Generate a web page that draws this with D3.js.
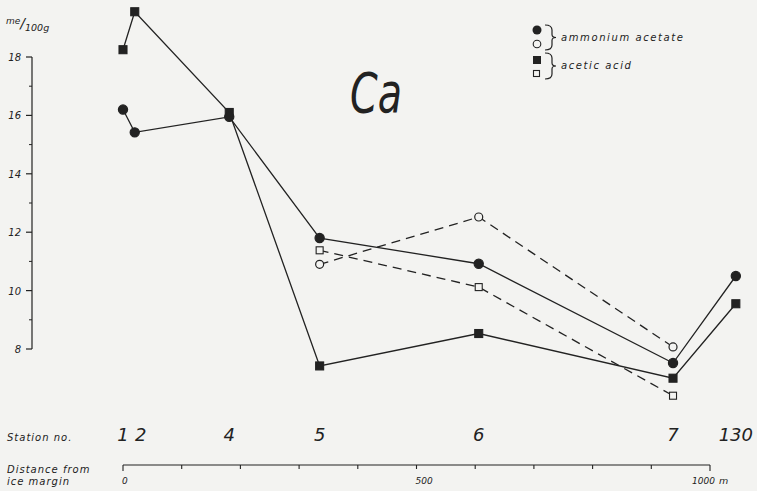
<!DOCTYPE html>
<html>
<head>
<meta charset="utf-8">
<script src="https://cdn.jsdelivr.net/npm/d3@7"></script>
<style>
  body { margin: 0; background: #f3f3f1; }
  svg { display: block; }
  text { font-family: 'DejaVu Sans', sans-serif; font-style: italic; fill: #222; }
</style>
</head>
<body>
<svg id="chart" width="757" height="491"></svg>
<script>
// stations and their distance from the ice margin (m)
const stations = ['1', '2', '4', '5', '6', '7', '130'];
const distances = [0, 20, 181, 335, 606, 937, 1044];

// ammonium acetate (filled circles) and acetic acid (filled squares)
const ammoniumFilled = [16.2, 15.42, 15.95, 11.8, 10.92, 7.52, 10.5];
const aceticFilled = [18.25, 19.55, 16.1, 7.42, 8.53, 7.0, 9.55];

// open symbols, stations 5, 6, 7 only
const openStations = ['5', '6', '7'];
const ammoniumOpen = [10.9, 12.52, 8.07];
const aceticOpen = [11.38, 10.12, 6.4];

const yTicks = [8, 10, 12, 14, 16, 18];
const yMinor = [9, 11, 13, 15, 17];
const distTicks = [0, 100, 200, 300, 400, 500, 600, 700, 800, 900, 1000];
const distLabels = [0, 500, 1000];

const ink = '#222';
const svg = d3.select('#chart');

const x = d3.scaleLinear().domain([0, 1000]).range([123, 710]);
const y = d3.scaleLinear().domain([8, 18]).range([349, 57]);
const dist = (s) => distances[stations.indexOf(s)];

// y axis
const yAxis = svg.append('g').attr('transform', 'translate(32,0)');
yAxis.append('line')
  .attr('y1', y(18)).attr('y2', y(8))
  .attr('stroke', ink).attr('stroke-width', 1.2);
yAxis.selectAll('.maj').data(yTicks).enter().append('line')
  .attr('x1', -6).attr('x2', 0)
  .attr('y1', (d) => y(d)).attr('y2', (d) => y(d))
  .attr('stroke', ink).attr('stroke-width', 1.2);
yAxis.selectAll('.min').data(yMinor).enter().append('line')
  .attr('x1', -3).attr('x2', 0)
  .attr('y1', (d) => y(d)).attr('y2', (d) => y(d))
  .attr('stroke', ink).attr('stroke-width', 1);
yAxis.selectAll('.lab').data(yTicks).enter().append('text')
  .attr('x', -11).attr('y', (d) => y(d) + 4)
  .attr('text-anchor', 'end')
  .attr('font-size', 10)
  .text((d) => d);

const unit = svg.append('text').attr('x', 6).attr('y', 28).attr('font-size', 9);
unit.append('tspan').attr('dy', -4).text('me');
unit.append('tspan').attr('dy', 4).attr('font-size', 14).text('/');
unit.append('tspan').attr('dy', 3).attr('font-size', 9.5).text('100g');

// distance axis
const dAxis = svg.append('g').attr('transform', 'translate(0,465)');
dAxis.append('line')
  .attr('x1', x(0)).attr('x2', x(1000))
  .attr('stroke', ink).attr('stroke-width', 1.2);
dAxis.selectAll('.t').data(distTicks).enter().append('line')
  .attr('x1', (d) => x(d)).attr('x2', (d) => x(d))
  .attr('y1', 0).attr('y2', (d) => (d === 0 || d === 1000 ? 6 : 4))
  .attr('stroke', ink).attr('stroke-width', 1.1);
dAxis.selectAll('.l').data(distLabels).enter().append('text')
  .attr('x', (d) => (d === 1000 ? x(d) - 18 : x(d) - 1))
  .attr('y', 19)
  .attr('font-size', 9)
  .text((d) => d);
dAxis.append('text').attr('x', x(1000) + 9).attr('y', 19)
  .attr('font-size', 9.5).text('m');

svg.append('text').attr('x', 7).attr('y', 473).attr('font-size', 10)
  .attr('letter-spacing', 1).text('Distance from');
svg.append('text').attr('x', 7).attr('y', 485).attr('font-size', 10)
  .attr('letter-spacing', 1).text('ice margin');
svg.append('text').attr('x', 7).attr('y', 441).attr('font-size', 10)
  .attr('letter-spacing', 1).text('Station no.');

// station labels
svg.selectAll('.st').data(stations).enter().append('text')
  .attr('x', (d) => x(dist(d)) + (d === '2' ? 6 : 0))
  .attr('y', 441)
  .attr('text-anchor', 'middle')
  .attr('font-size', 18)
  .text((d) => d);

// title
svg.append('text').attr('x', 350).attr('y', 112)
  .attr('font-size', 56)
  .attr('font-family', 'Liberation Sans, sans-serif')
  .attr('textLength', 52).attr('lengthAdjust', 'spacingAndGlyphs')
  .text('Ca');

// lines
const line = d3.line().x((d) => x(d[0])).y((d) => y(d[1]));
function series(names, vals, dashed) {
  svg.append('path')
    .datum(names.map((s, i) => [dist(s), vals[i]]))
    .attr('d', line)
    .attr('fill', 'none')
    .attr('stroke', ink)
    .attr('stroke-width', 1.3)
    .attr('stroke-dasharray', dashed ? '9,6' : null);
}
series(stations, aceticFilled, false);
series(stations, ammoniumFilled, false);
series(openStations, ammoniumOpen, true);
series(openStations, aceticOpen, true);

// markers
function circles(names, vals, filled) {
  svg.append('g').selectAll('circle').data(vals).enter().append('circle')
    .attr('cx', (d, i) => x(dist(names[i])))
    .attr('cy', (d) => y(d))
    .attr('r', filled ? 4.6 : 4)
    .attr('fill', filled ? ink : '#f3f3f1')
    .attr('stroke', ink).attr('stroke-width', 1.2);
}
function squares(names, vals, filled) {
  const s = filled ? 8 : 7;
  svg.append('g').selectAll('rect').data(vals).enter().append('rect')
    .attr('x', (d, i) => x(dist(names[i])) - s / 2)
    .attr('y', (d) => y(d) - s / 2)
    .attr('width', s).attr('height', s)
    .attr('fill', filled ? ink : '#f3f3f1')
    .attr('stroke', ink).attr('stroke-width', 1.1);
}
squares(stations, aceticFilled, true);
circles(stations, ammoniumFilled, true);
circles(openStations, ammoniumOpen, false);
squares(openStations, aceticOpen, false);

// legend
const lg = svg.append('g');
lg.append('circle').attr('cx', 537).attr('cy', 30).attr('r', 4.5).attr('fill', ink);
lg.append('circle').attr('cx', 537).attr('cy', 44).attr('r', 3.8)
  .attr('fill', 'none').attr('stroke', ink).attr('stroke-width', 1.1);
lg.append('rect').attr('x', 533).attr('y', 56).attr('width', 8).attr('height', 8).attr('fill', ink);
lg.append('rect').attr('x', 533.5).attr('y', 70.5).attr('width', 6).attr('height', 6)
  .attr('fill', 'none').attr('stroke', ink).attr('stroke-width', 1.1);
function brace(top, bot) {
  const m = (top + bot) / 2;
  lg.append('path')
    .attr('d', `M545,${top} Q552,${top} 552,${top + 5} L552,${m - 3} Q552,${m} 556,${m}
      Q552,${m} 552,${m + 3} L552,${bot - 5} Q552,${bot} 545,${bot}`)
    .attr('fill', 'none').attr('stroke', ink).attr('stroke-width', 1.2);
}
brace(25, 50);
brace(53, 79);
lg.append('text').attr('x', 561).attr('y', 41).attr('font-size', 10)
  .attr('letter-spacing', 1.6).text('ammonium acetate');
lg.append('text').attr('x', 561).attr('y', 69).attr('font-size', 10)
  .attr('letter-spacing', 1.6).text('acetic acid');
</script>
</body>
</html>
